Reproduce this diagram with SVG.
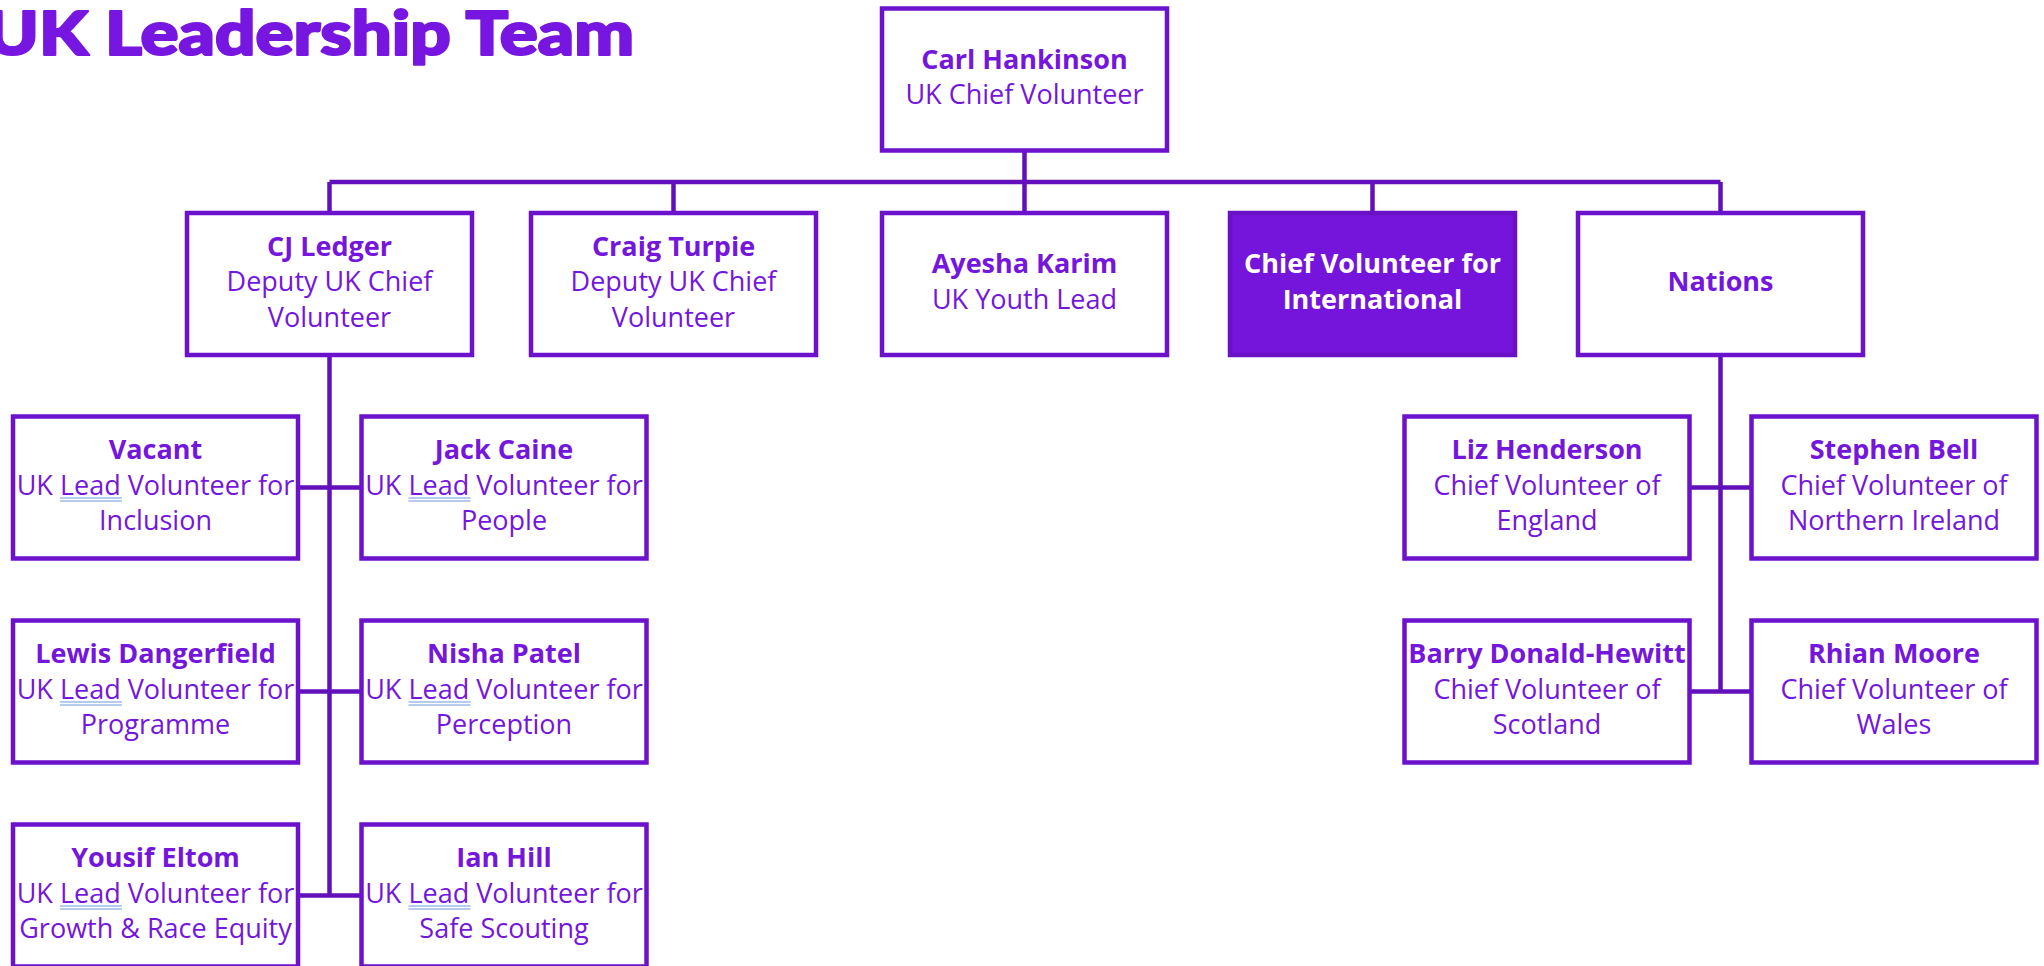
<svg xmlns="http://www.w3.org/2000/svg" width="2044" height="966" viewBox="0 0 2044 966">
<style>
.box{fill:#ffffff;stroke:#6c12cc;stroke-width:4.5}
.boxf{fill:#7514db;stroke:#6a11c6;stroke-width:4.5}
.conn{stroke:#6210bc;stroke-width:4.5;fill:none}
text{font-family:"Open Sans","Noto Sans","Liberation Sans",sans-serif;font-size:27px;fill:#7516dc;text-anchor:middle}
.n{font-weight:700}
.w{fill:#ffffff;font-weight:700}
.title{font-family:Lato,"Open Sans","Liberation Sans",sans-serif;font-weight:900;font-size:60px;fill:#7716e0;stroke:#7716e0;stroke-width:2.2;stroke-linejoin:round;text-anchor:start}
.ul{stroke:#9dbbee;stroke-width:1.3}
</style>
<rect width="2044" height="966" fill="#ffffff"/>
<text class="title" x="-14" y="55" textLength="648" lengthAdjust="spacingAndGlyphs">UK Leadership Team</text>
<g id="connectors">
<path class="conn" d="M1024.5 150.5V182M329.5 182H1720.5M329.5 182V213M673.5 182V213M1024.5 182V213M1372.5 182V213M1720.5 182V213"/>
<path class="conn" d="M329.5 355V895.5M298 487.5H361.5M298 691.5H361.5M298 895.5H361.5"/>
<path class="conn" d="M1720.5 355V691.5M1689.5 487.5H1751.5M1689.5 691.5H1751.5"/>
</g>
<g id="carl"><rect class="box" x="882" y="8.5" width="285" height="142"/><text class="n" x="1024.5" y="68.75">Carl Hankinson</text><text x="1024.5" y="104.25">UK Chief Volunteer</text></g>
<g id="cj"><rect class="box" x="187" y="213" width="285" height="142"/><text class="n" x="329.5" y="255.5">CJ Ledger</text><text x="329.5" y="291">Deputy UK Chief</text><text x="329.5" y="326.5">Volunteer</text></g>
<g id="craig"><rect class="box" x="531" y="213" width="285" height="142"/><text class="n" x="673.5" y="255.5">Craig Turpie</text><text x="673.5" y="291">Deputy UK Chief</text><text x="673.5" y="326.5">Volunteer</text></g>
<g id="ayesha"><rect class="box" x="882" y="213" width="285" height="142"/><text class="n" x="1024.5" y="273.25">Ayesha Karim</text><text x="1024.5" y="308.75">UK Youth Lead</text></g>
<g id="international"><rect class="boxf" x="1230" y="213" width="285" height="142"/><text class="w" x="1372.5" y="273.25">Chief Volunteer for</text><text class="w" x="1372.5" y="308.75">International</text></g>
<g id="nations"><rect class="box" x="1578" y="213" width="285" height="142"/><text class="n" x="1720.5" y="291">Nations</text></g>
<g id="vacant"><rect class="box" x="13" y="416.5" width="285" height="142"/><text class="n" x="155.5" y="459">Vacant</text><text x="155.5" y="494.5">UK Lead Volunteer for</text><text x="155.5" y="530">Inclusion</text><path class="ul" d="M60 498H122M60 501H122"/></g>
<g id="jack"><rect class="box" x="361.5" y="416.5" width="285" height="142"/><text class="n" x="504" y="459">Jack Caine</text><text x="504" y="494.5">UK Lead Volunteer for</text><text x="504" y="530">People</text><path class="ul" d="M408.5 498H470.5M408.5 501H470.5"/></g>
<g id="lewis"><rect class="box" x="13" y="620.5" width="285" height="142"/><text class="n" x="155.5" y="663">Lewis Dangerfield</text><text x="155.5" y="698.5">UK Lead Volunteer for</text><text x="155.5" y="734">Programme</text><path class="ul" d="M60 702H122M60 705H122"/></g>
<g id="nisha"><rect class="box" x="361.5" y="620.5" width="285" height="142"/><text class="n" x="504" y="663">Nisha Patel</text><text x="504" y="698.5">UK Lead Volunteer for</text><text x="504" y="734">Perception</text><path class="ul" d="M408.5 702H470.5M408.5 705H470.5"/></g>
<g id="yousif"><rect class="box" x="13" y="824.5" width="285" height="142"/><text class="n" x="155.5" y="867">Yousif Eltom</text><text x="155.5" y="902.5">UK Lead Volunteer for</text><text x="155.5" y="938">Growth &amp; Race Equity</text><path class="ul" d="M60 906H122M60 909H122"/></g>
<g id="ian"><rect class="box" x="361.5" y="824.5" width="285" height="142"/><text class="n" x="504" y="867">Ian Hill</text><text x="504" y="902.5">UK Lead Volunteer for</text><text x="504" y="938">Safe Scouting</text><path class="ul" d="M408.5 906H470.5M408.5 909H470.5"/></g>
<g id="liz"><rect class="box" x="1404.5" y="416.5" width="285" height="142"/><text class="n" x="1547" y="459">Liz Henderson</text><text x="1547" y="494.5">Chief Volunteer of</text><text x="1547" y="530">England</text></g>
<g id="stephen"><rect class="box" x="1751.5" y="416.5" width="285" height="142"/><text class="n" x="1894" y="459">Stephen Bell</text><text x="1894" y="494.5">Chief Volunteer of</text><text x="1894" y="530">Northern Ireland</text></g>
<g id="barry"><rect class="box" x="1404.5" y="620.5" width="285" height="142"/><text class="n" x="1547" y="663">Barry Donald-Hewitt</text><text x="1547" y="698.5">Chief Volunteer of</text><text x="1547" y="734">Scotland</text></g>
<g id="rhian"><rect class="box" x="1751.5" y="620.5" width="285" height="142"/><text class="n" x="1894" y="663">Rhian Moore</text><text x="1894" y="698.5">Chief Volunteer of</text><text x="1894" y="734">Wales</text></g>
</svg>
